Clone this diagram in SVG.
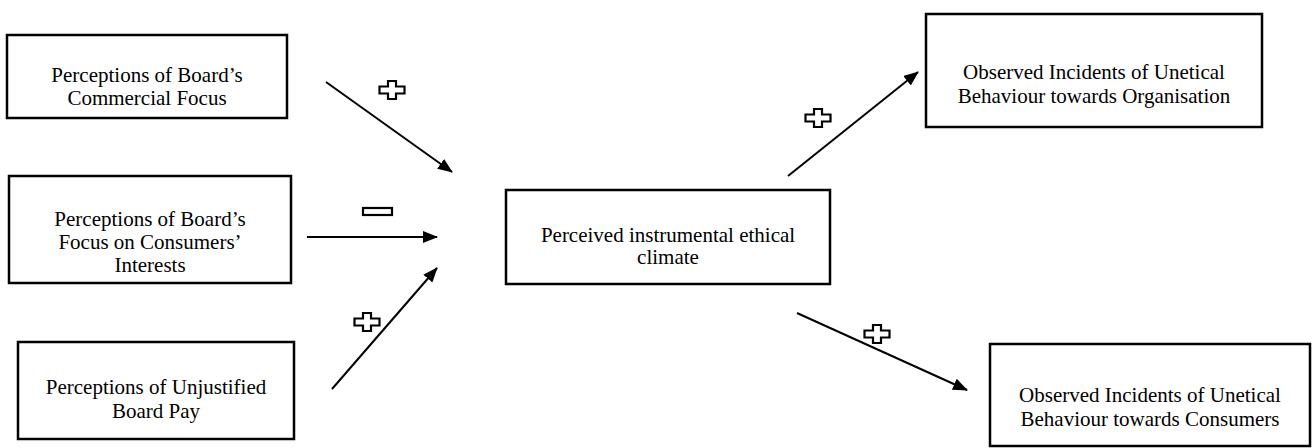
<svg xmlns="http://www.w3.org/2000/svg" width="1312" height="448" viewBox="0 0 1312 448">
<style>
.box{fill:#fff;stroke:#000;stroke-width:2.5}
.lbl{font-family:"Liberation Serif","Times New Roman",serif;font-size:21px;fill:#000;text-anchor:middle}
.conn{stroke:#000;stroke-width:2;fill:none;marker-end:url(#ah)}
.sign{fill:#fff;stroke:#000;stroke-width:2.2}
</style>
<defs>
<marker id="ah" viewBox="0 0 15 12" refX="14" refY="6" markerWidth="15" markerHeight="12" markerUnits="userSpaceOnUse" orient="auto">
<path d="M0,0 L15,6 L0,12 Z" fill="#000"/>
</marker>
<path id="plus" d="M-4,-9 H4 V-3.5 H12.5 V3.5 H4 V9 H-4 V3.5 H-12.5 V-3.5 H-4 Z"/>
</defs>
<rect width="1312" height="448" fill="#fff"/>
<g id="n1">
<rect class="box" x="7" y="35" width="280" height="83"/>
<text class="lbl" x="147" y="82">Perceptions of Board’s</text>
<text class="lbl" x="147" y="105">Commercial Focus</text>
</g>
<g id="n2">
<rect class="box" x="9" y="176" width="282" height="107"/>
<text class="lbl" x="150" y="226">Perceptions of Board’s</text>
<text class="lbl" x="150" y="249">Focus on Consumers’</text>
<text class="lbl" x="150" y="272">Interests</text>
</g>
<g id="n3">
<rect class="box" x="18" y="342" width="276" height="97"/>
<text class="lbl" x="156" y="394">Perceptions of Unjustified</text>
<text class="lbl" x="156" y="418">Board Pay</text>
</g>
<g id="n4">
<rect class="box" x="506" y="190" width="324" height="94"/>
<text class="lbl" x="668" y="242">Perceived instrumental ethical</text>
<text class="lbl" x="668" y="264">climate</text>
</g>
<g id="n5">
<rect class="box" x="926" y="14" width="336" height="113"/>
<text class="lbl" x="1094" y="79">Observed Incidents of Unetical</text>
<text class="lbl" x="1094" y="103">Behaviour towards Organisation</text>
</g>
<g id="n6">
<rect class="box" x="990" y="344" width="320" height="102"/>
<text class="lbl" x="1150" y="402">Observed Incidents of Unetical</text>
<text class="lbl" x="1150" y="426">Behaviour towards Consumers</text>
</g>
<g id="connectors">
<line class="conn" x1="326" y1="82" x2="452" y2="172"/>
<line class="conn" x1="307" y1="237" x2="437" y2="237"/>
<line class="conn" x1="332" y1="389" x2="437" y2="268"/>
<line class="conn" x1="788" y1="176" x2="918" y2="72"/>
<line class="conn" x1="797" y1="313" x2="967" y2="390"/>
</g>
<g id="signs">
<use href="#plus" class="sign" x="392" y="90"/>
<rect class="sign" x="363" y="208" width="29" height="7"/>
<use href="#plus" class="sign" x="367" y="322"/>
<use href="#plus" class="sign" x="818" y="118"/>
<use href="#plus" class="sign" x="877" y="334"/>
</g>
</svg>
